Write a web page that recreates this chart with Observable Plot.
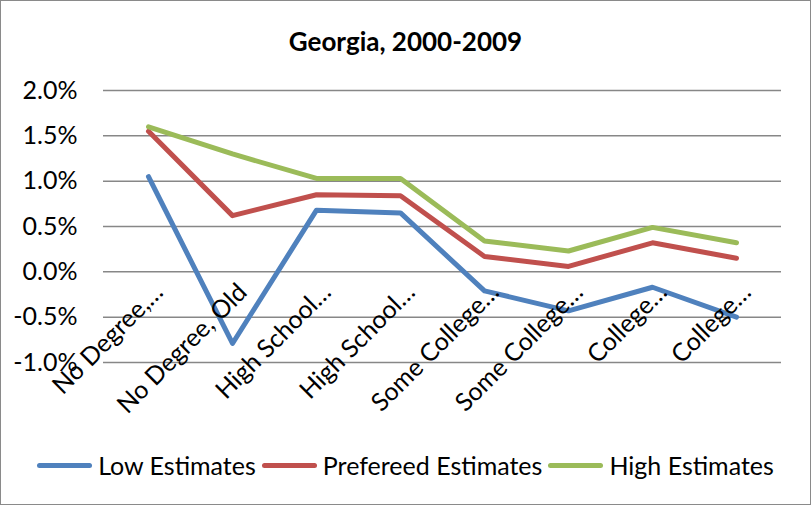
<!DOCTYPE html>
<html>
<head>
<meta charset="utf-8">
<script src="https://cdn.jsdelivr.net/npm/d3@7"></script>
<script src="https://cdn.jsdelivr.net/npm/@observablehq/plot@0.6"></script>
<style>
  html, body { margin: 0; padding: 0; background: #fff; }
  #chart { position: relative; width: 811px; height: 505px; background: #fff; font-family: Lato, "Open Sans", sans-serif; overflow: hidden; }
  #frame { position: absolute; left: 0; top: 0; width: 811px; height: 505px; box-sizing: border-box; border: 1.5px solid #8a8a8a; pointer-events: none; }
  #title { position: absolute; left: 0; width: 811px; top: 24px; text-align: center; font-weight: bold; font-size: 26px; color: #000; line-height: 34px; }
  #plot { position: absolute; left: 0; top: 70px; }
  #legend { position: absolute; left: 0; width: 811px; top: 449px; display: flex; justify-content: center; align-items: center; font-size: 25px; color: #000; line-height: 32px; }
  .item { display: flex; align-items: center; margin: 0 3px; }
  .sw { width: 55px; height: 5px; border-radius: 3px; margin-right: 6px; }
</style>
</head>
<body>
<div id="chart">
  <div id="title">Georgia, 2000-2009</div>
  <div id="plot"></div>
  <div id="legend"></div>
  <div id="frame"></div>
</div>
<script>
const categories = ["No Degree, Young", "No Degree, Old", "High School, Young", "High School, Old", "Some College, Young", "Some College, Old", "College, Young", "College, Old"];
const tickLabels = ["No Degree,…", "No Degree, Old", "High School…", "High School…", "Some College…", "Some College…", "College…", "College…"];
const seriesNames = ["Low Estimates", "Prefereed Estimates", "High Estimates"];
const lowEstimates = [0.0105, -0.0079, 0.0068, 0.0065, -0.0021, -0.0043, -0.0017, -0.0050];
const preferredEstimates = [0.0155, 0.0062, 0.0085, 0.0084, 0.0017, 0.0006, 0.0032, 0.0015];
const highEstimates = [0.0160, 0.0130, 0.0103, 0.0103, 0.0034, 0.0023, 0.0049, 0.0032];
const yTicks = [-0.01, -0.005, 0, 0.005, 0.01, 0.015, 0.02];
const colors = ["#4f81bd", "#c0504d", "#9bbb59"];

const seriesValues = [lowEstimates, preferredEstimates, highEstimates];
const rows = [];
seriesNames.forEach((s, si) => {
  categories.forEach((c, i) => rows.push({series: s, category: c, value: seriesValues[si][i]}));
});
const labelRows = categories.map((c, i) => ({category: c, label: tickLabels[i], value: 0}));

const plot = Plot.plot({
  width: 811,
  height: 372,
  marginTop: 20,
  marginBottom: 80,
  marginLeft: 103,
  marginRight: 30,
  style: {fontFamily: "Lato, 'Open Sans', sans-serif", fontSize: "25px", color: "#000", background: "transparent", overflow: "visible"},
  x: {type: "point", domain: categories, padding: 0.5, axis: null},
  y: {domain: [-0.01, 0.02], ticks: yTicks, tickSize: 0, tickPadding: 26, tickFormat: d => (d * 100).toFixed(1) + "%", label: null},
  color: {domain: seriesNames, range: colors},
  marks: [
    Plot.ruleY(yTicks, {stroke: "#878787", strokeWidth: 1.5}),
    Plot.line(rows, {x: "category", y: "value", z: "series", stroke: "series", strokeWidth: 5, strokeLinejoin: "round", strokeLinecap: "round"}),
    Plot.text(labelRows, {x: "category", y: "value", text: "label", rotate: -45, textAnchor: "end", lineAnchor: "bottom", dx: 16, dy: 22, fill: "#000"})
  ]
});
document.getElementById("plot").appendChild(plot);

const legend = document.getElementById("legend");
seriesNames.forEach((s, i) => {
  const item = document.createElement("div");
  item.className = "item";
  const sw = document.createElement("div");
  sw.className = "sw";
  sw.style.background = colors[i];
  const t = document.createElement("span");
  t.textContent = s;
  item.appendChild(sw);
  item.appendChild(t);
  legend.appendChild(item);
});
</script>
</body>
</html>
